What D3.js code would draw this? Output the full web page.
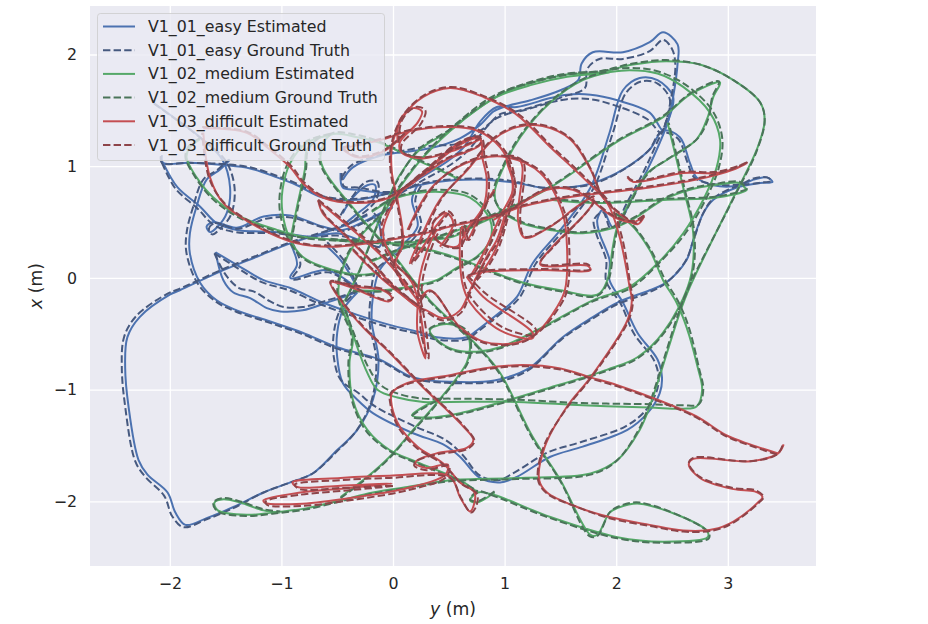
<!DOCTYPE html>
<html>
<head>
<meta charset="utf-8">
<script src="https://cdn.jsdelivr.net/npm/d3@7"></script>
<style>
html, body { margin: 0; background: #fff; }
text { font-family: "DejaVu Sans", sans-serif; fill: #262626; }
</style>
</head>
<body>
<div id="main"></div>
<script>
// trajectories, each point is [y, x] in metres, one inner list per stretch
var easyEst = [
[[-2.15,1.57],[-1.97,1.44],[-1.73,1.26],[-1.53,1.06],[-1.46,.81],[-1.49,.58],[-1.57,.46],[-1.64,.41],[-1.67,.46],[-1.61,.5],[-1.4,.45],[-1.16,.55],[-.92,.56],[-.63,.46],[-.45,.43],[-.23,.52],[0,.64]],
[[-2.07,1.1],[-2.06,1.03],[-1.82,1.03],[-1.52,1.01],[-1.28,.98],[-1.04,.9],[-.86,.83],[-.63,.72],[-.32,.7],[-.03,.76],[.33,.85],[.81,.88],[1.11,.85],[1.32,.81],[1.56,.81],[1.79,.85],[2.06,.97],[2.3,1.15],[2.42,1.32],[2.57,1.26],[2.66,1.03],[2.72,.9],[2.87,.83],[3.11,.83],[3.23,.88],[3.35,.9],[3.4,.86],[3.29,.85],[3.08,.81],[2.87,.7],[2.78,.58],[2.69,.34],[2.63,.16],[2.45,-.04],[2.3,-.11],[2.01,-.22],[1.79,-.35],[1.52,-.53],[1.23,-.8],[.99,-.9],[.81,-.93],[.51,-.93],[.27,-.91],[.13,-.87],[-.12,-.73],[-.5,-.62],[-.81,-.49],[-1.1,-.39],[-1.4,-.29],[-1.58,-.2],[-1.73,-.04],[-1.82,.22],[-1.82,.4],[-1.76,.64],[-1.67,.88],[-1.55,.97],[-1.46,1.06]],
[[-2.06,1.03],[-1.93,.81],[-1.73,.64],[-1.58,.49],[-1.4,.43],[-1.04,.41],[-.74,.37],[-.5,.4],[-.3,.34],[-.12,.28],[-.12,.46],[-.18,.56]],
[[-.23,.56],[-.43,.47],[-.63,.4],[-.92,.31],[-1.22,.19],[-1.52,.07],[-1.91,-.11],[-2,-.15],[-2.27,-.35],[-2.38,-.53],[-2.4,-.8],[-2.37,-1.15],[-2.28,-1.63],[-2.2,-1.76],[-2.02,-1.92],[-1.95,-2.1],[-1.86,-2.21],[-1.67,-2.15],[-1.43,-2.05],[-1.16,-1.92],[-.92,-1.83],[-.72,-1.75],[-.5,-1.54],[-.32,-1.36],[-.18,-1.09],[-.13,-.73],[-.19,-.4],[-.18,-.17],[-.12,.07],[.04,.25],[.22,.46],[.17,.7],[.22,.83]],
[[-1.59,.23],[-1.37,.1],[-1.16,-.02],[-.92,-.09],[-.63,-.22],[-.32,-.33],[-.03,-.42],[.22,-.48],[.39,-.53],[.66,-.53],[.75,-.47],[.93,-.33],[1.11,-.17],[1.25,.13],[1.5,.43],[1.77,.81],[1.94,1.3],[2.06,1.68],[2.21,1.79],[2.37,1.77],[2.51,1.62],[2.46,1.39],[2.39,1.21],[2.28,.97],[2.12,.67],[2.03,.49],[1.97,.45],[1.88,.61],[1.83,.52],[1.85,.4],[1.94,.16],[1.94,-.02],[2.06,-.22],[2.19,-.49],[2.37,-.73],[2.41,-.89],[2.39,-1.03],[2.28,-1.21],[2.1,-1.36],[1.7,-1.51],[1.41,-1.6],[1.11,-1.78],[.96,-1.83],[.78,-1.79],[.6,-1.6],[.45,-1.49],[.18,-1.39],[-.18,-1.21],[-.32,-1.09],[-.45,-.94],[-.5,-.71],[-.5,-.49],[-.45,-.29],[-.32,-.13]],
[[-1.59,.23],[-1.52,-.02],[-1.43,-.13],[-1.28,-.18],[-1.13,-.27],[-1.01,-.3],[-.81,-.29],[-.59,-.22],[-.39,-.15],[-.31,-.11],[-.39,-.04],[-.59,.07],[-.92,0],[-.86,.12],[-.92,.31]],
[[-.31,-.11],[-.39,.04],[-.47,.16],[-.61,.3]],
[[-.47,.94],[-.45,.81],[-.32,.79],[-.09,.76],[0,.76]],
[[-.45,.88],[-.36,.99],[-.09,1.1],[.04,1.12],[.33,1.16],[.6,1.25],[.78,1.37],[.9,1.49],[.99,1.53],[1.23,1.59],[1.5,1.68],[1.66,1.77],[1.69,1.92],[1.79,2.02],[2.06,2.02],[2.3,2.11],[2.42,2.2],[2.55,2.09],[2.55,1.92],[2.51,1.62],[2.46,1.39],[2.42,1.32],[2.3,1.48],[2.01,1.59],[1.77,1.64],[1.56,1.64],[1.41,1.61],[1.11,1.53],[.93,1.53],[.78,1.4],[.65,1.19],[.51,1.06],[.24,.89],[.06,.77]],
[[-.45,.58],[-.36,.72],[-.23,.83],[-.16,.83],[-.18,.7],[-.34,.56],[-.45,.47]]
];
var easyGt = [
[[-2.14,1.56],[-1.96,1.43],[-1.72,1.25],[-1.5,1.05],[-1.42,.81],[-1.45,.57],[-1.54,.45],[-1.62,.39],[-1.65,.44],[-1.6,.49],[-1.39,.44],[-1.14,.53],[-.91,.54],[-.62,.45],[-.45,.42],[-.23,.51],[0,.63]],
[[-2.08,1.09],[-2.07,1.03],[-1.83,1.03],[-1.52,1.02],[-1.28,.99],[-1.03,.91],[-.85,.84],[-.62,.73],[-.32,.71],[-.03,.76],[.33,.86],[.81,.89],[1.11,.86],[1.32,.81],[1.56,.81],[1.79,.84],[2.05,.96],[2.29,1.14],[2.4,1.3],[2.55,1.25],[2.64,1.03],[2.7,.9],[2.87,.84],[3.11,.84],[3.23,.89],[3.35,.9],[3.39,.87],[3.28,.85],[3.08,.82],[2.87,.71],[2.78,.58],[2.69,.33],[2.62,.15],[2.44,-.05],[2.29,-.13],[2,-.24],[1.78,-.37],[1.51,-.55],[1.22,-.82],[.98,-.92],[.81,-.94],[.51,-.94],[.27,-.92],[.13,-.88],[-.12,-.74],[-.51,-.63],[-.82,-.5],[-1.11,-.4],[-1.41,-.3],[-1.59,-.21],[-1.75,-.05],[-1.85,.22],[-1.85,.4],[-1.79,.64],[-1.7,.88],[-1.57,.97],[-1.47,1.06]],
[[-2.07,1.03],[-1.95,.8],[-1.75,.62],[-1.6,.47],[-1.41,.41],[-1.05,.4],[-.75,.36],[-.5,.38],[-.29,.33],[-.1,.28],[-.1,.47],[-.17,.58]],
[[-.23,.57],[-.43,.48],[-.63,.41],[-.92,.32],[-1.22,.2],[-1.52,.08],[-1.92,-.1],[-2.02,-.14],[-2.3,-.34],[-2.41,-.53],[-2.43,-.8],[-2.4,-1.15],[-2.31,-1.64],[-2.22,-1.78],[-2.05,-1.95],[-1.98,-2.13],[-1.88,-2.23],[-1.67,-2.16],[-1.43,-2.06],[-1.16,-1.92],[-.92,-1.83],[-.72,-1.75],[-.5,-1.55],[-.33,-1.37],[-.19,-1.09],[-.15,-.73],[-.21,-.4],[-.2,-.17],[-.15,.07],[.08,.25],[.25,.46],[.2,.7],[.26,.84]],
[[-1.6,.22],[-1.38,.08],[-1.17,-.04],[-.93,-.11],[-.64,-.24],[-.33,-.35],[-.04,-.44],[.22,-.5],[.39,-.55],[.66,-.55],[.76,-.48],[.94,-.34],[1.13,-.18],[1.28,.13],[1.53,.43],[1.8,.81],[1.97,1.3],[2.09,1.66],[2.23,1.76],[2.37,1.74],[2.48,1.6],[2.44,1.38],[2.36,1.2],[2.25,.96],[2.09,.66],[2,.48],[1.95,.44],[1.88,.59],[1.8,.52],[1.82,.4],[1.91,.16],[1.91,-.03],[2.04,-.23],[2.16,-.5],[2.34,-.74],[2.38,-.89],[2.36,-1.02],[2.26,-1.19],[2.08,-1.33],[1.68,-1.47],[1.39,-1.56],[1.09,-1.74],[.94,-1.81],[.78,-1.77],[.62,-1.58],[.47,-1.45],[.2,-1.33],[-.16,-1.15],[-.31,-1.03],[-.47,-.91],[-.53,-.71],[-.53,-.49],[-.47,-.28],[-.33,-.12]],
[[-1.6,.22],[-1.5,.03],[-1.38,-.09],[-1.25,-.12],[-1.1,-.21],[-.98,-.26],[-.81,-.26],[-.59,-.2],[-.39,-.14],[-.31,-.1],[-.39,-.05],[-.58,.05],[-.9,-.01],[-.83,.12],[-.9,.31]],
[[-.31,-.1],[-.37,.04],[-.45,.17],[-.59,.32]],
[[-.46,.94],[-.44,.82],[-.32,.81],[-.09,.77],[0,.77]],
[[-.46,.9],[-.37,1.01],[-.09,1.11],[.04,1.13],[.33,1.18],[.62,1.21],[.8,1.33],[.93,1.43],[1.03,1.47],[1.25,1.53],[1.52,1.62],[1.72,1.7],[1.74,1.87],[1.85,1.96],[2.06,1.96],[2.3,2.03],[2.42,2.13],[2.5,2.05],[2.53,1.9],[2.49,1.6],[2.44,1.38],[2.4,1.3],[2.28,1.42],[2,1.54],[1.77,1.6],[1.56,1.6],[1.41,1.57],[1.13,1.49],[.97,1.47],[.83,1.34],[.69,1.16],[.54,1.03],[.26,.87],[.07,.76]],
[[-.47,.56],[-.37,.72],[-.24,.86],[-.14,.86],[-.15,.7],[-.32,.54],[-.45,.45]]
];
var mediumEst = [
[[.91,-1.92],[.75,-2.01],[.69,-1.99],[.76,-1.92],[.9,-1.94],[1.41,-2.14],[2.01,-2.32],[2.42,-2.36],[2.82,-2.32],[2.81,-2.26],[2.21,-2.02],[2.01,-2.06],[1.94,-2.1],[1.83,-2.3],[1.77,-2.3],[1.5,-1.81],[1.25,-1.42],[.96,-.85],[.75,-.6],[.33,-.2],[-.03,.25],[-.32,.58],[-.65,1.06],[-.56,1.28],[-.32,1.26],[-.12,1.21],[.06,1.13],[.27,1.03],[.45,.95],[.6,.88]],
[[-.56,1.28],[-.77,1.21],[-.92,1.03],[-.99,.79],[-.99,.58],[-.92,.34],[-.81,.19],[-.63,.1],[-.32,.03],[-.12,.05]],
[[-.65,1.26],[-.77,1.15],[-.79,.97],[-.86,.64],[-.92,.34]],
[[-1.73,1.24],[-1.82,1.17],[-1.85,1.08],[-1.76,.9],[-1.61,.72],[-1.37,.55],[-1.04,.43],[-.81,.37],[-.45,.34],[-.03,.31],[.33,.25],[.63,.16],[.93,.04],[1.16,-.04],[1.5,-.11],[1.83,-.15],[1.92,-.02],[1.97,.28],[2.01,.46],[2.1,.64],[2.28,.94],[2.46,1.06],[2.72,1.24],[2.82,1.44],[2.87,1.62],[2.93,1.75],[2.66,1.64],[2.42,1.44],[2.01,1.22],[1.41,.81],[.81,.52],[.51,.4],[.06,.25],[-.21,.14]],
[[-.43,-.2],[-.3,.07],[-.16,.43],[-.03,.74],[.06,.92],[.24,1.15],[.51,1.32],[.66,1.44],[.96,1.64],[1.25,1.75],[1.56,1.82],[1.85,1.84],[2.15,1.91],[2.45,1.94],[2.75,1.91],[3.05,1.77],[3.29,1.57],[3.33,1.41],[3.26,1.15],[3.05,.72],[2.66,-.08],[2.57,-.31],[2.3,-1.15],[2.21,-1.36],[2.01,-1.63],[1.77,-1.75],[1.11,-1.79],[.51,-1.81],[.13,-1.87],[-.18,-1.92],[-.47,-1.99],[-.77,-2.06],[-1.08,-2.1],[-1.31,-2.12],[-1.57,-2.08],[-1.6,-2.01],[-1.52,-1.98],[-1.37,-2.01],[-1.16,-2.08],[-1.01,-2.1]],
[[-.47,-1.96],[-.23,-1.78],[-.03,-1.6],[.18,-1.36],[.39,-1.12],[.66,-.76],[.69,-.62],[.66,-.49],[.54,-.42],[.42,-.42],[.33,-.47],[.39,-.55],[.54,-.64],[.75,-.66],[.96,-.62],[1.34,-.44],[1.79,-.2],[2.12,-.08],[2.37,.13],[2.6,.4],[2.78,.7],[2.9,.99],[2.93,1.24],[2.84,1.48],[2.6,1.71],[2.37,1.83],[2.12,1.86],[1.85,1.83],[1.56,1.8],[1.25,1.73],[.93,1.62],[.6,1.39],[.27,1.08],[.06,.81],[-.09,.58],[-.27,.4],[-.41,.19],[-.49,-.11],[-.45,-.29],[-.36,-.53],[-.39,-.76],[-.36,-1.09],[-.23,-1.36],[-.03,-1.54],[.22,-1.65],[.6,-1.81],[.76,-1.92]],
[[-.45,-.2],[-.32,-.62],[-.23,-.85],[-.14,-1],[.04,-1.07],[.27,-1.11],[.51,-1.11],[1.11,-1.11],[1.7,-1.14],[2.3,-1.16],[2.6,-1.17],[2.72,-1.15],[2.77,-1],[2.73,-.8],[2.63,-.44],[2.54,-.22],[2.42,-.02],[2.3,.25],[2.12,.49],[1.97,.58]],
[[1.41,.7],[1.83,.67],[2.46,.7],[2.9,.72],[3.17,.79],[3.15,.81],[3.11,.85],[2.87,.83],[2.66,.79],[2.42,.7],[2.19,.55],[2.01,.46],[1.7,.4],[1.41,.43],[1.16,.49],[.96,.61],[.91,.76],[.99,.99],[1.14,1.26],[1.41,1.57],[1.7,1.77],[1.94,1.84]],
[[.39,-1.09],[.17,-1.23],[.3,-1.25],[.6,-1.21],[1.41,-.98],[1.92,-.82],[2.19,-.71],[2.42,-.49],[2.66,-.02],[2.69,.4],[2.6,.81],[2.46,1.39]],
[[-.36,-.11],[-.09,-.11],[.24,-.06],[.39,-.02],[.57,.09],[.75,.19],[.87,.34],[.87,.52],[.69,.72],[.42,.77],[.04,.72],[-.19,.59]],
[[-.56,.34],[.04,.31],[.33,.34],[.54,.37],[.78,.49],[1.05,.61]]
];
var mediumGt = [
[[.91,-1.91],[.75,-2],[.69,-1.98],[.76,-1.91],[.9,-1.95],[1.41,-2.15],[2.01,-2.33],[2.42,-2.37],[2.83,-2.33],[2.82,-2.27],[2.21,-2.01],[2.01,-2.05],[1.94,-2.1],[1.83,-2.31],[1.76,-2.31],[1.5,-1.82],[1.24,-1.42],[.95,-.85],[.74,-.6],[.32,-.2],[-.04,.25],[-.33,.58],[-.66,1.06],[-.56,1.29],[-.32,1.28],[-.12,1.22],[.06,1.14],[.27,1.04],[.45,.96],[.6,.89]],
[[-.56,1.29],[-.78,1.22],[-.94,1.03],[-1.01,.79],[-1.01,.57],[-.93,.33],[-.81,.18],[-.63,.09],[-.32,.02],[-.12,.04]],
[[-.65,1.27],[-.76,1.15],[-.78,.97],[-.85,.64],[-.91,.34]],
[[-1.73,1.25],[-1.83,1.18],[-1.86,1.08],[-1.77,.9],[-1.62,.71],[-1.38,.54],[-1.05,.42],[-.81,.36],[-.45,.33],[-.03,.3],[.33,.24],[.63,.15],[.93,.03],[1.16,-.05],[1.5,-.12],[1.83,-.16],[1.93,-.02],[1.98,.28],[2.02,.46],[2.11,.64],[2.29,.94],[2.47,1.07],[2.73,1.25],[2.83,1.44],[2.86,1.62],[2.92,1.76],[2.66,1.65],[2.42,1.45],[2.01,1.23],[1.41,.82],[.81,.53],[.51,.41],[.06,.26],[-.21,.15]],
[[-.43,-.21],[-.3,.06],[-.16,.42],[-.03,.73],[.06,.91],[.24,1.16],[.51,1.33],[.66,1.45],[.96,1.65],[1.25,1.76],[1.56,1.83],[1.85,1.85],[2.15,1.92],[2.45,1.95],[2.75,1.91],[3.05,1.77],[3.29,1.57],[3.33,1.41],[3.26,1.14],[3.05,.71],[2.65,-.08],[2.56,-.31],[2.29,-1.15],[2.2,-1.36],[2,-1.64],[1.77,-1.76],[1.11,-1.8],[.51,-1.82],[.13,-1.88],[-.18,-1.93],[-.47,-2],[-.77,-2.07],[-1.08,-2.11],[-1.31,-2.13],[-1.57,-2.09],[-1.61,-2.01],[-1.52,-1.97],[-1.37,-2],[-1.16,-2.07],[-1.01,-2.09]],
[[-.47,-1.97],[-.23,-1.79],[-.03,-1.61],[.18,-1.37],[.39,-1.13],[.67,-.76],[.7,-.62],[.67,-.48],[.54,-.41],[.42,-.41],[.32,-.47],[.39,-.56],[.54,-.65],[.75,-.67],[.96,-.63],[1.34,-.45],[1.79,-.21],[2.13,-.09],[2.38,.13],[2.62,.4],[2.8,.7],[2.92,.99],[2.95,1.25],[2.86,1.5],[2.62,1.73],[2.37,1.85],[2.12,1.88],[1.85,1.85],[1.56,1.82],[1.25,1.75],[.92,1.64],[.59,1.4],[.26,1.08],[.05,.81],[-.1,.58],[-.28,.4],[-.42,.19],[-.5,-.11],[-.46,-.29],[-.37,-.53],[-.4,-.76],[-.37,-1.09],[-.24,-1.37],[-.03,-1.55],[.22,-1.66],[.6,-1.82],[.76,-1.91]],
[[-.46,-.2],[-.31,-.6],[-.21,-.82],[-.11,-.96],[.06,-1.04],[.27,-1.08],[.51,-1.08],[1.11,-1.09],[1.7,-1.12],[2.3,-1.13],[2.6,-1.14],[2.74,-1.13],[2.78,-1],[2.74,-.8],[2.65,-.44],[2.56,-.22],[2.44,-.02],[2.31,.25],[2.13,.49],[1.97,.59]],
[[1.41,.71],[1.83,.68],[2.46,.71],[2.9,.73],[3.17,.8],[3.15,.82],[3.11,.86],[2.87,.84],[2.66,.8],[2.42,.71],[2.19,.56],[2.01,.47],[1.7,.41],[1.41,.44],[1.16,.5],[.96,.62],[.9,.76],[.98,.99],[1.13,1.26],[1.4,1.57],[1.7,1.78],[1.94,1.85]],
[[.39,-1.1],[.17,-1.24],[.3,-1.26],[.6,-1.22],[1.41,-.99],[1.92,-.83],[2.19,-.72],[2.43,-.49],[2.67,-.02],[2.7,.4],[2.61,.81],[2.47,1.39]],
[[-.36,-.12],[-.09,-.12],[.24,-.07],[.39,-.03],[.57,.08],[.76,.19],[.89,.34],[.89,.53],[.7,.74],[.42,.79],[.04,.73],[-.19,.6]],
[[-.56,.35],[.04,.32],[.33,.35],[.54,.38],[.78,.5],[1.05,.62]]
];
var difficultEst = [
[[2.1,.9],[2.15,.86],[2.6,.94],[2.9,.94],[3.14,1.01],[3.17,1.03],[3.05,.97],[2.72,.88],[2.3,.81],[1.88,.76],[1.56,.72],[1.16,.64],[.9,.55],[.51,.46],[.33,.41],[-.03,.34],[-.54,.28],[-.86,.31],[-1.22,.46],[-1.52,.67],[-1.64,.9],[-1.7,1.3]],
[[-1.7,1.34],[-1.31,1.3],[-1.13,1.17],[-.92,.99],[-.81,.85],[-.63,.72],[-.32,.67],[-.03,.72],[.27,.94],[.6,1.21],[.78,1.25],[.8,1.08],[.84,.88],[.81,.64],[.66,.43],[.57,.28],[.39,.34],[.36,.49],[.48,.58],[.54,.49],[.42,.28]],
[[-.45,1.15],[-.32,1.08],[-.09,1.13],[.13,1.31]],
[[-.45,1.16],[-.09,1.24],[.13,1.31],[.51,1.35],[.75,1.32],[.96,1.17],[1.05,.99],[1.07,.76],[1.02,.58],[.93,.28],[.81,.07],[.73,-.02]],
[[3.5,-1.49],[3.45,-1.57],[3.2,-1.64],[2.69,-1.62],[2.65,-1.67],[2.75,-1.79],[3.05,-1.89],[3.24,-1.91],[3.31,-1.96],[3.27,-2.01],[3.05,-2.18],[2.87,-2.25],[2.6,-2.26],[2.3,-2.21],[1.94,-2.14],[1.65,-2.05],[1.38,-1.92],[1.31,-1.81],[1.36,-1.51],[1.56,-1.15],[1.77,-.89],[2.1,-.38],[2.14,-.2],[2.12,-.08],[2.03,.37],[1.92,.67],[1.7,.9],[1.41,1.17],[1.11,1.46],[.81,1.62],[.51,1.7],[.27,1.62],[.09,1.44],[-.01,1.17],[-.01,.94],[.04,.7],[.09,.31],[.02,.12],[.13,-.11]],
[[3.45,-1.57],[3.2,-1.49],[2.99,-1.41],[2.72,-1.24],[2.37,-1.09],[2.01,-.96],[1.77,-.89],[1.5,-.81],[1.16,-.78],[.81,-.81],[.51,-.87],[.13,-.94],[-.01,-1.03],[-.01,-1.15],[.06,-1.33],[.22,-1.51],[.45,-1.66],[.6,-1.83],[.73,-1.92],[.73,-2.01],[.69,-2.09],[.6,-1.96],[.51,-1.78],[-.03,-1.77],[-.47,-1.79],[-.9,-1.83],[-.86,-1.87],[-.47,-1.86],[-.01,-1.84],[-.39,-1.88],[-.83,-1.92],[-1.16,-1.99],[-1.15,-2.01],[-.81,-2.02],[-.32,-1.96],[.13,-1.88],[.47,-1.76],[.49,-1.67],[.3,-1.7],[.2,-1.66],[.22,-1.63],[.39,-1.57],[.66,-1.52],[.72,-1.45],[.63,-1.33],[.45,-1.15],[.27,-.98],[-.03,-.67],[-.27,-.44],[-.47,-.2],[-.56,-.04],[-.39,-.08],[-.04,-.21],[-.01,-.18],[-.09,-.11],[-.32,-.08],[-.52,-.04]],
[[-.67,.69],[-.63,.58],[-.45,.4],[-.21,.16],[-.03,-.04],[.22,-.26],[.3,-.29],[.45,-.36],[.6,-.29],[.69,-.11],[.84,.19],[.93,.34],[1,.56]],
[[-.67,.69],[-.47,.52],[-.21,.3],[-.03,.12],[.22,-.2]],
[[2.25,.55],[2.19,.48],[2.06,.55],[1.88,.72],[1.77,.97],[1.59,1.24],[1.34,1.36],[1.11,1.35],[.9,1.24],[.67,.97],[.42,.7],[.24,.34],[.15,.13],[.27,.28],[.36,.43],[.48,.58]],
[[2.25,.55],[2.15,.5],[1.97,.55],[1.77,.7],[1.61,.79],[1.38,.79],[1.11,.64],[.9,.52]],
[[.13,.43],[.33,.79],[.54,.97],[.78,1.07],[1.02,1.08],[1.32,.94],[1.52,.58],[1.56,.25],[1.54,-.11],[1.47,-.26],[1.29,-.49],[1.11,-.58],[.81,-.57],[.6,-.44],[.33,-.11],[.22,-.22]],
[[.66,.01],[.81,-.17],[1.25,-.49],[1.25,-.54],[.96,-.47],[.69,-.22],[.62,-.04],[.6,.34],[.62,.46],[.66,.34],[.81,.64],[.91,.79]],
[[.66,.01],[.78,.05],[1.32,.07],[1.77,.07],[1.74,.11],[1.32,.12],[1.43,.28],[1.7,.55],[1.79,.67],[1.79,.72],[1.65,.64],[1.41,.46],[1.18,.36],[1.12,.52],[1.16,.99],[1.13,1.06],[1.02,1.08],[1.08,.81],[.96,.55],[.81,.22],[.69,.01]],
[[.04,1.21],[.06,1.41],[.18,1.52],[.26,1.49],[.22,1.39],[.06,1.21],[.08,1.12],[.27,1.07],[.57,1.15],[.78,1.24]],
[[.04,.76],[.18,.85],[.42,1.06],[.63,1.21],[.78,1.25],[.78,1.19],[.48,1.06],[.3,.94],[.09,.79],[-.04,.58],[-.09,.4],[0,.16],[.18,-.06],[.29,-.72],[.22,-.49],[.22,-.26],[.24,.01],[.33,.31],[.39,.43]],
[[-.36,.25],[-.12,.01],[.22,-.26]]
];
var difficultGt = [
[[2.1,.91],[2.15,.87],[2.6,.95],[2.9,.95],[3.14,1.02],[3.18,1.04],[3.05,.98],[2.72,.89],[2.3,.82],[1.88,.77],[1.56,.73],[1.16,.65],[.9,.56],[.51,.47],[.33,.42],[-.03,.35],[-.54,.29],[-.86,.32],[-1.22,.47],[-1.52,.68],[-1.65,.9],[-1.71,1.3]],
[[-1.71,1.35],[-1.31,1.31],[-1.12,1.18],[-.91,1],[-.8,.86],[-.62,.73],[-.32,.68],[-.03,.73],[.27,.95],[.6,1.22],[.79,1.26],[.82,1.08],[.86,.88],[.83,.64],[.68,.43],[.59,.27],[.4,.33],[.35,.48],[.49,.6],[.56,.49],[.44,.27]],
[[-.45,1.16],[-.32,1.09],[-.09,1.14],[.13,1.32]],
[[-.45,1.17],[-.09,1.25],[.13,1.32],[.51,1.36],[.76,1.33],[.97,1.18],[1.07,.99],[1.09,.76],[1.04,.58],[.95,.28],[.83,.07],[.75,-.02]],
[[3.49,-1.5],[3.44,-1.58],[3.2,-1.64],[2.69,-1.61],[2.65,-1.66],[2.75,-1.78],[3.05,-1.88],[3.25,-1.9],[3.32,-1.96],[3.28,-2.01],[3.05,-2.19],[2.87,-2.26],[2.6,-2.27],[2.3,-2.22],[1.94,-2.15],[1.65,-2.05],[1.38,-1.93],[1.3,-1.81],[1.35,-1.51],[1.56,-1.16],[1.77,-.9],[2.11,-.38],[2.15,-.2],[2.13,-.08],[2.05,.37],[1.94,.67],[1.71,.91],[1.42,1.18],[1.12,1.47],[.81,1.63],[.51,1.71],[.27,1.63],[.08,1.44],[-.02,1.17],[-.02,.94],[.03,.7],[.08,.31],[.01,.12],[.12,-.11]],
[[3.44,-1.58],[3.2,-1.5],[2.99,-1.42],[2.72,-1.25],[2.37,-1.1],[2.01,-.97],[1.77,-.9],[1.5,-.82],[1.16,-.79],[.81,-.82],[.51,-.88],[.13,-.95],[-.02,-1.03],[-.02,-1.15],[.05,-1.34],[.21,-1.52],[.45,-1.67],[.61,-1.84],[.75,-1.93],[.75,-2.03],[.7,-2.1],[.61,-1.97],[.51,-1.79],[-.03,-1.79],[-.47,-1.81],[-.88,-1.85],[-.84,-1.89],[-.47,-1.88],[.01,-1.86],[-.39,-1.9],[-.83,-1.94],[-1.14,-2],[-1.13,-2.03],[-.81,-2.04],[-.32,-1.98],[.13,-1.9],[.48,-1.78],[.5,-1.68],[.3,-1.72],[.19,-1.68],[.21,-1.64],[.39,-1.58],[.67,-1.53],[.73,-1.46],[.64,-1.33],[.46,-1.15],[.28,-.98],[-.02,-.67],[-.26,-.44],[-.46,-.2],[-.56,-.03],[-.39,-.07],[-.04,-.2],[0,-.17],[-.09,-.1],[-.32,-.07],[-.52,-.03]],
[[-.67,.7],[-.62,.58],[-.44,.4],[-.2,.16],[-.02,-.04],[.23,-.25],[.31,-.31],[.45,-.38],[.61,-.31],[.7,-.11],[.85,.19],[.95,.34],[1.02,.56]],
[[-.67,.7],[-.46,.53],[-.2,.31],[-.02,.13],[.23,-.19]],
[[2.25,.56],[2.19,.49],[2.06,.56],[1.88,.73],[1.77,.98],[1.59,1.25],[1.34,1.37],[1.11,1.36],[.9,1.25],[.67,.98],[.43,.7],[.26,.34],[.17,.13],[.29,.28],[.38,.43],[.5,.58]],
[[2.25,.56],[2.15,.51],[1.97,.56],[1.77,.71],[1.61,.8],[1.38,.8],[1.11,.65],[.9,.53]],
[[.14,.43],[.34,.79],[.55,.98],[.78,1.08],[1.02,1.09],[1.33,.95],[1.54,.58],[1.58,.25],[1.56,-.11],[1.49,-.26],[1.3,-.49],[1.11,-.59],[.81,-.58],[.6,-.45],[.34,-.12],[.23,-.23]],
[[.67,.02],[.83,-.14],[1.28,-.46],[1.27,-.51],[.98,-.44],[.71,-.19],[.64,-.04],[.62,.34],[.64,.47],[.68,.34],[.82,.64],[.92,.79]],
[[.67,.02],[.78,.06],[1.32,.08],[1.77,.08],[1.75,.12],[1.32,.13],[1.44,.28],[1.71,.56],[1.8,.68],[1.8,.73],[1.66,.64],[1.42,.47],[1.18,.37],[1.14,.52],[1.18,.99],[1.15,1.06],[1.03,1.09],[1.1,.81],[.98,.55],[.83,.22],[.71,.01]],
[[.05,1.21],[.08,1.41],[.2,1.53],[.29,1.5],[.25,1.38],[.08,1.2],[.08,1.13],[.27,1.08],[.57,1.16],[.78,1.25]],
[[.04,.77],[.18,.86],[.42,1.07],[.63,1.22],[.78,1.26],[.78,1.2],[.48,1.07],[.3,.95],[.09,.8],[-.06,.58],[-.11,.4],[-.02,.16],[.2,-.06],[.32,-.72],[.25,-.49],[.25,-.26],[.27,.01],[.36,.31],[.42,.43]],
[[-.36,.26],[-.12,.02],[.23,-.25]]
];

var yTicks = [-2, -1, 0, 1, 2, 3];
var xTicks = [-2, -1, 0, 1, 2];
var names = ["V1_01_easy Estimated", "V1_01_easy Ground Truth", "V1_02_medium Estimated", "V1_02_medium Ground Truth", "V1_03_difficult Estimated", "V1_03_difficult Ground Truth"];
var colors = ["#4c72b0", "#46597f", "#55a868", "#4a7459", "#c44e52", "#8d4449"];
var tracks = [easyEst, easyGt, mediumEst, mediumGt, difficultEst, difficultGt];

var margin = {top: 6, right: 112, bottom: 58, left: 90},
    width = 928 - margin.left - margin.right,
    height = 624 - margin.top - margin.bottom;

var svg = d3.select("#main").append("svg")
    .attr("width", 928)
    .attr("height", 624)
    .style("display", "block");

var plot = svg.append("g").attr("transform", "translate(" + margin.left + "," + margin.top + ")");

var yScale = d3.scaleLinear().domain([-2.715, 3.79]).range([0, width]);
var xScale = d3.scaleLinear().domain([2.434, -2.578]).range([0, height]);

plot.append("rect").attr("width", width).attr("height", height).attr("fill", "#eaeaf2");

var bottomAxis = plot.append("g").attr("transform", "translate(0," + height + ")")
    .call(d3.axisBottom(yScale).tickValues(yTicks).tickFormat(d3.format("d")).tickSize(-height).tickPadding(12));
var leftAxis = plot.append("g")
    .call(d3.axisLeft(xScale).tickValues(xTicks).tickFormat(d3.format("d")).tickSize(-width).tickPadding(13));

[bottomAxis, leftAxis].forEach(function(a) {
    a.select(".domain").remove();
    a.selectAll("line").attr("stroke", "#fff").attr("stroke-width", 1.3);
    a.selectAll("text").style("font-family", '"DejaVu Sans", sans-serif').style("font-size", "15.8px").attr("fill", "#262626");
});

var line = d3.line()
    .x(function(d) { return yScale(d[0]); })
    .y(function(d) { return xScale(d[1]); })
    .curve(d3.curveCatmullRom.alpha(0.5));

tracks.forEach(function(track, i) {
    plot.append("g").selectAll("path").data(track)
        .enter().append("path")
        .attr("d", line)
        .attr("fill", "none")
        .attr("stroke", colors[i])
        .attr("stroke-width", 2)
        .attr("stroke-dasharray", i % 2 ? "7.4,3.2" : null);
});

// axis titles
var yTitle = svg.append("text").attr("x", 453).attr("y", 615).attr("text-anchor", "middle").style("font-size", "17.3px");
yTitle.append("tspan").style("font-style", "italic").text("y");
yTitle.append("tspan").text(" (m)");

var xTitle = svg.append("text").attr("transform", "translate(42,286) rotate(-90)").attr("text-anchor", "middle").style("font-size", "17.3px");
xTitle.append("tspan").style("font-style", "italic").text("x");
xTitle.append("tspan").text(" (m)");

// legend, drawn over the lines
var legend = svg.append("g").attr("transform", "translate(97,13)");
legend.append("rect")
    .attr("x", 0.5).attr("y", 0.5)
    .attr("width", 287).attr("height", 147).attr("rx", 3)
    .attr("fill", "#eaeaf2").attr("fill-opacity", 0.8)
    .attr("stroke", "#cccccc").attr("stroke-opacity", 0.8);

var rows = legend.selectAll(".row").data(names).enter().append("g")
    .attr("class", "row")
    .attr("transform", function(d, i) { return "translate(0," + (13.5 + i * 23.7) + ")"; });
rows.append("line")
    .attr("x1", 6).attr("x2", 38)
    .attr("stroke", function(d, i) { return colors[i]; })
    .attr("stroke-width", 2)
    .attr("stroke-dasharray", function(d, i) { return i % 2 ? "7.4,3.2" : null; });
rows.append("text")
    .attr("x", 51).attr("y", 5.5)
    .style("font-size", "15.8px")
    .text(function(d) { return d; });
</script>
</body>
</html>
